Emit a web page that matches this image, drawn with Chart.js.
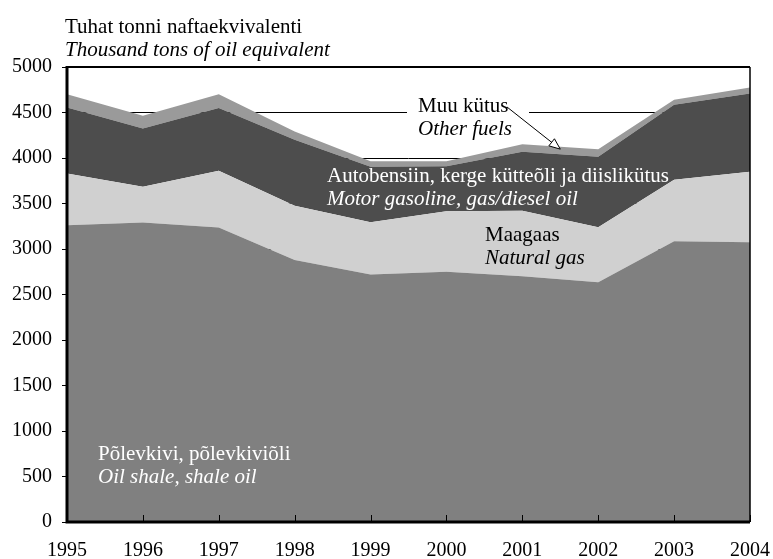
<!DOCTYPE html>
<html>
<head>
<meta charset="utf-8">
<script src="https://cdn.jsdelivr.net/npm/chart.js@4.4.1/dist/chart.umd.min.js"></script>
<style>
  html, body { margin: 0; padding: 0; background: #fff; }
  canvas { display: block; }
</style>
</head>
<body>
<canvas id="energy" width="773" height="559"></canvas>
<script>
const years = ['1995', '1996', '1997', '1998', '1999', '2000', '2001', '2002', '2003', '2004']
const oilShale = [3260, 3290, 3235, 2880, 2720, 2750, 2700, 2635, 3085, 3075]
const naturalGas = [570, 395, 625, 595, 575, 665, 720, 605, 675, 775]
const motorFuels = [725, 640, 690, 725, 610, 495, 650, 775, 825, 860]
const otherFuels = [145, 140, 150, 90, 60, 55, 80, 80, 55, 65]

const serif = '"Liberation Serif", "Times New Roman", serif'

// text blocks inside the plot: [first line, second line (italic)], left x, baseline y, colour
const notes = [
  { lines: ['Muu kütus', 'Other fuels'], x: 418, y: 112, color: '#000' },
  { lines: ['Autobensiin, kerge kütteõli ja diislikütus', 'Motor gasoline, gas/diesel oil'], x: 327, y: 182, color: '#fff' },
  { lines: ['Maagaas', 'Natural gas'], x: 485, y: 241, color: '#000' },
  { lines: ['Põlevkivi, põlevkiviõli', 'Oil shale, shale oil'], x: 98, y: 460, color: '#fff' },
]

const drawNote = (ctx, n) => {
  ctx.fillStyle = n.color
  ctx.font = '21px ' + serif
  ctx.fillText(n.lines[0], n.x, n.y)
  ctx.font = 'italic 21px ' + serif
  ctx.fillText(n.lines[1], n.x, n.y + 23)
}

const frame = {
  id: 'frame',
  beforeDatasetsDraw(chart) {
    // white patch behind "Muu kütus", breaks the 4500 gridline
    const ctx = chart.ctx
    ctx.save()
    ctx.fillStyle = '#fff'
    ctx.fillRect(407, 94, 122, 46)
    ctx.restore()
  },
  afterDatasetsDraw(chart) {
    const { ctx, chartArea: a, scales: { x, y } } = chart
    ctx.save()
    ctx.strokeStyle = '#000'

    // top and right edges
    ctx.lineWidth = 2
    ctx.beginPath(); ctx.moveTo(a.left, a.top); ctx.lineTo(a.right, a.top); ctx.stroke()
    ctx.lineWidth = 1.5
    ctx.beginPath(); ctx.moveTo(a.right, a.top); ctx.lineTo(a.right, a.bottom); ctx.stroke()

    // year ticks point up into the plot
    ctx.lineWidth = 1
    years.forEach((yr, i) => {
      const px = Math.round(x.getPixelForValue(i)) + 0.5
      ctx.beginPath(); ctx.moveTo(px, a.bottom); ctx.lineTo(px, a.bottom - 7); ctx.stroke()
    })

    // heavy axes
    ctx.lineWidth = 3
    ctx.beginPath(); ctx.moveTo(a.left, a.top - 1); ctx.lineTo(a.left, a.bottom); ctx.lineTo(a.right, a.bottom); ctx.stroke()

    notes.forEach(n => drawNote(ctx, n))

    // arrow from "Muu kütus" down to the thin top band
    const total = i => oilShale[i] + naturalGas[i] + motorFuels[i] + otherFuels[i]
    const tx = x.getPixelForValue(6.5)
    const ty = y.getPixelForValue((total(6) + total(7)) / 2 - 25)
    const sx = 507, sy = 107
    const ang = Math.atan2(ty - sy, tx - sx)
    ctx.lineWidth = 1
    ctx.beginPath(); ctx.moveTo(sx, sy); ctx.lineTo(tx - 10 * Math.cos(ang), ty - 10 * Math.sin(ang)); ctx.stroke()
    ctx.beginPath()
    ctx.moveTo(tx, ty)
    ctx.lineTo(tx - 11 * Math.cos(ang) + 4.5 * Math.sin(ang), ty - 11 * Math.sin(ang) - 4.5 * Math.cos(ang))
    ctx.lineTo(tx - 11 * Math.cos(ang) - 4.5 * Math.sin(ang), ty - 11 * Math.sin(ang) + 4.5 * Math.cos(ang))
    ctx.closePath()
    ctx.fillStyle = '#fff'
    ctx.fill()
    ctx.stroke()

    // unit heading
    ctx.fillStyle = '#000'
    ctx.font = '21px ' + serif
    ctx.fillText('Tuhat tonni naftaekvivalenti', 65, 33)
    ctx.font = 'italic 21px ' + serif
    ctx.fillText('Thousand tons of oil equivalent', 65, 56)
    ctx.restore()
  },
}

const area = (label, data, color, fill) => ({
  label,
  data,
  backgroundColor: color,
  borderWidth: 0,
  pointRadius: 0,
  fill,
})

new Chart(document.getElementById('energy'), {
  type: 'line',
  data: {
    labels: years,
    datasets: [
      area('Põlevkivi, põlevkiviõli', oilShale, '#808080', 'origin'),
      area('Maagaas', naturalGas, '#d0d0d0', '-1'),
      area('Autobensiin, kerge kütteõli ja diislikütus', motorFuels, '#4d4d4d', '-1'),
      area('Muu kütus', otherFuels, '#9a9a9a', '-1'),
    ],
  },
  options: {
    responsive: false,
    animation: false,
    layout: { padding: { left: 0, top: 67, right: 23, bottom: 0 } },
    plugins: { legend: { display: false }, tooltip: { enabled: false } },
    scales: {
      x: {
        offset: false,
        grid: { display: false },
        border: { display: false },
        ticks: { color: '#000', font: { family: serif, size: 20 }, padding: 9, maxRotation: 0, autoSkip: false },
        afterFit: s => { s.height = 37; s.paddingLeft = 0; s.paddingRight = 0 },
      },
      y: {
        stacked: true,
        min: 0,
        max: 5000,
        grid: { color: '#000', lineWidth: 1, drawTicks: true, tickLength: 5, tickColor: '#000' },
        border: { display: false },
        ticks: { stepSize: 500, color: '#000', font: { family: serif, size: 20 }, padding: 10, callback: v => String(v) },
        afterFit: s => { s.width = 67; s.paddingTop = 0; s.paddingBottom = 0 },
      },
    },
  },
  plugins: [frame],
})
</script>
</body>
</html>
